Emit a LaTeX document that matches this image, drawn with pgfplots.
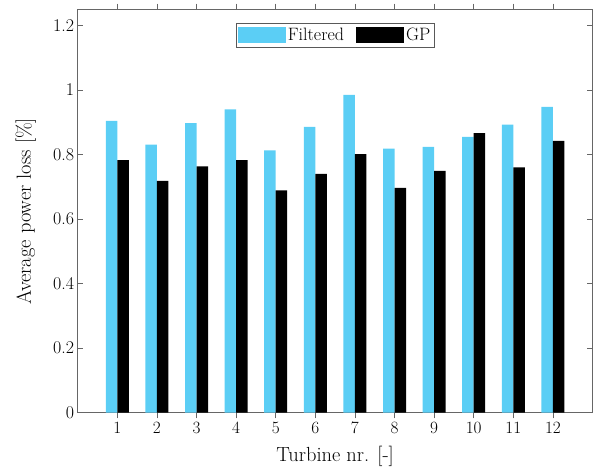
\documentclass[border=0pt]{standalone}
\usepackage{pgfplots}
\pgfplotsset{compat=1.18}
\definecolor{filt}{RGB}{91,206,245}
\begin{document}
\begin{tikzpicture}
\begin{axis}[
  scale only axis, width=514.8bp, height=403.4bp,
  xmin=0, xmax=13, ymin=0, ymax=1.25,
  xtick={1,2,3,4,5,6,7,8,9,10,11,12},
  ytick={0,0.2,0.4,0.6,0.8,1,1.2},
  yticklabels={0,0.2,0.4,0.6,0.8,1,1.2},
  tick align=inside, major tick length=5.7bp,
  axis line style={black!60, line width=0.6pt},
  tick style={black!60, line width=0.6pt},
  ticklabel style={font=\fontsize{18}{20}\selectfont},
  ybar=0pt, bar width=11.5bp,
  xlabel={Turbine nr. [-]},
  ylabel={Average power loss [\%]},
  label style={font=\fontsize{20.5}{22}\selectfont},
  xlabel style={at={(axis description cs:0.5,-0.108)}, anchor=center},
  ylabel style={at={(axis description cs:-0.101,0.5)}, anchor=center},
  legend columns=2,
  legend style={at={(axis description cs:0.5,0.967)}, anchor=north,
    draw=black!65, line width=0.6pt, font=\fontsize{18}{20}\selectfont,
    inner xsep=2bp, inner ysep=3bp,
    /tikz/every even column/.append style={column sep=10bp}},
  legend image code/.code={\fill[#1] (0bp,-8bp) rectangle (48bp,8bp);},
]
\addplot[fill=filt, draw=none] coordinates {
(1,0.904) (2,0.831) (3,0.897) (4,0.940) (5,0.813) (6,0.886)
(7,0.985) (8,0.818) (9,0.824) (10,0.855) (11,0.893) (12,0.948)};
\addplot[fill=black, draw=none] coordinates {
(1,0.783) (2,0.718) (3,0.763) (4,0.783) (5,0.689) (6,0.740)
(7,0.801) (8,0.697) (9,0.749) (10,0.866) (11,0.760) (12,0.842)};
\legend{Filtered, GP}
\end{axis}
\path ([shift={(-77.7bp,-56.3bp)}]current axis.south west) rectangle ([shift={(2.5bp,9.3bp)}]current axis.north east);
\end{tikzpicture}
\end{document}
